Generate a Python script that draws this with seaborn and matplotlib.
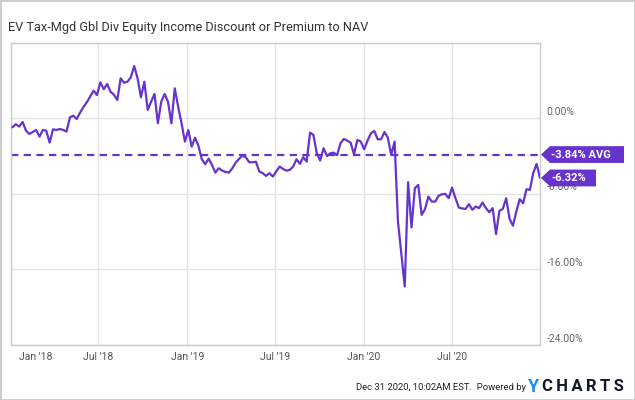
import numpy as np
import pandas as pd
import matplotlib
matplotlib.use("Agg")
import matplotlib.pyplot as plt
import seaborn as sns
from matplotlib.patches import Polygon, Rectangle
from matplotlib.transforms import Affine2D, ScaledTranslation, offset_copy

# ---------------- data ----------------
title = "EV Tax-Mgd Gbl Div Equity Income Discount or Premium to NAV"
end_date = "2020-12-31"
values = [
    -0.95, -0.63, -0.88, -0.39, -1.31, -1.66, -1.45, -1.24, -1.94, -1.24,
    -1.31, -2.58, -1.17, -1.24, -1.13, -1.24, -1.41, 0.10, 0.27, -0.08,
    0.60, 1.20, 1.70, 2.30, 2.92, 2.46, 3.80, 3.07, 3.63, 2.81,
    2.50, 1.93, 4.23, 3.76, 3.87, 4.33, 5.53, 4.23, 2.22, 3.87,
    0.88, 1.75, 2.57, -0.53, 1.75, 2.57, 1.75, -0.53, 3.17, 1.23,
    -0.53, -2.47, -1.24, -3.00, -2.05, -2.93, -4.34, -4.86, -4.27, -4.94,
    -5.75, -5.29, -5.54, -5.68, -5.75, -5.30, -4.70, -4.30, -3.95, -4.12,
    -4.65, -4.65, -4.60, -5.64, -5.81, -6.10, -5.81, -6.17, -5.64, -5.11,
    -5.36, -5.54, -5.47, -5.11, -4.34, -4.83, -4.12, -4.59, -1.52, -1.77,
    -3.70, -4.48, -3.17, -3.99, -3.70, -3.64, -3.91, -2.64, -2.19, -2.37,
    -2.58, -3.81, -2.29, -2.47, -3.28, -2.37, -1.59, -1.34, -2.22, -2.22,
    -1.45, -2.05, -3.88, -2.47, -10.93, -14.40, -17.80, -6.77, -11.56, -7.40,
    -7.05, -10.22, -9.62, -8.29, -8.82, -8.82, -8.21, -8.05, -8.00, -8.46,
    -7.34, -8.46, -9.45, -9.55, -9.59, -9.09, -9.69, -9.34, -9.51, -8.92,
    -9.51, -9.94, -9.51, -12.26, -9.80, -9.59, -8.46, -10.64, -11.38, -9.87,
    -8.56, -8.99, -7.51, -7.58, -5.81, -4.83, -6.32,
]
avg_value = -3.84
last_value = -6.32
x_tick_dates = ["2018-01-01", "2018-07-01", "2019-01-01", "2019-07-01", "2020-01-01", "2020-07-01"]
x_tick_labels = ["Jan '18", "Jul '18", "Jan '19", "Jul '19", "Jan '20", "Jul '20"]
y_ticks = [0, -8, -16, -24]
y_grid = [8, 0, -8, -16, -24]

dates = pd.date_range(end=end_date, periods=len(values), freq="7D")
df = pd.DataFrame({"date": dates, "value": values})

# ---------------- style ----------------
PURPLE = "#6634cc"
GRID = "#e3e3e3"
FRAME = "#cccccc"
sns.set_theme(style="white")
plt.rcParams["font.family"] = ["Roboto", "DejaVu Sans"]

W, H = 635, 400
fig = plt.figure(figsize=(W / 100, H / 100), dpi=100)
fig.patch.set_facecolor("white")
ax = fig.add_axes([11 / W, 1 - 345 / H, 529 / W, (345 - 42.7) / H])

sns.lineplot(data=df, x="date", y="value", ax=ax, color=PURPLE, linewidth=1.6, zorder=3)
ax.axhline(avg_value, color=PURPLE, linewidth=1.6, linestyle=(0, (3.3, 2.4)), zorder=2)

ax.set_xlim(pd.Timestamp("2018-01-01"), pd.Timestamp("2020-12-31"))
ax.set_ylim(-24, 8)
ax.set_xlabel("")
ax.set_ylabel("")

ax.set_yticks(y_grid)
ax.set_yticklabels([])
ax.set_xticks(pd.to_datetime(x_tick_dates))
ax.set_xticklabels(x_tick_labels)
ax.tick_params(axis="both", length=0)
ax.tick_params(axis="x", labelsize=7.5, labelcolor="#555555", pad=5)
ax.grid(True, color=GRID, linewidth=1)
for s in ax.spines.values():
    s.set_color(FRAME)
    s.set_linewidth(1)

# shift first x label inward
lab0 = ax.get_xticklabels()[0]
lab0.set_transform(lab0.get_transform() + ScaledTranslation(0.25, 0, fig.dpi_scale_trans))

# right-hand y labels (above gridlines)
ytr = offset_copy(ax.get_yaxis_transform(), fig=fig, x=6.7, y=6.5, units="dots")
for v in y_ticks:
    ax.text(1.0, v, f"{v:.2f}%", transform=ytr, ha="left", va="center",
            fontsize=7.5, color="#666666", clip_on=False, zorder=1)

# value tags
def tag(yval, text, right_px):
    tr = Affine2D() + ScaledTranslation(1.0, yval, ax.get_yaxis_transform())
    h = 8.4
    verts = [(1, 0), (10, h), (right_px, h), (right_px, -h), (10, -h)]
    ax.add_patch(Polygon(verts, closed=True, transform=tr, facecolor=PURPLE,
                         edgecolor="none", clip_on=False, zorder=5))
    ax.text(11, -0.3, text, transform=tr, ha="left", va="center", fontsize=8,
            fontweight="bold", color="white", clip_on=False, zorder=6)

tag(avg_value, f"{avg_value:.2f}% AVG", 84)
tag(last_value, f"{last_value:.2f}%", 56)

# title
fig.text(8 / W, 1 - 27.5 / H, title, ha="left", va="center", fontsize=9.2, color="#333333")

# footer
fig.text(526 / W, 1 - 387 / H, "Dec 31 2020, 10:02AM EST.  Powered by", ha="right",
         va="center", fontsize=6.8, color="#222222")
fig.text(528 / W, 1 - 386.5 / H, "Y", ha="left", va="center", fontsize=13,
         fontweight="bold", color="#1f8ded")
fig.text(542 / W, 1 - 386.5 / H, "\u2009".join("CHARTS"), ha="left", va="center",
         fontsize=12, fontweight="bold", color="#111827")

fig.add_artist(Rectangle((0, 0), 1, 1, transform=fig.transFigure, fill=False,
                         edgecolor=FRAME, linewidth=2))

fig.savefig("out.png", dpi=100)
